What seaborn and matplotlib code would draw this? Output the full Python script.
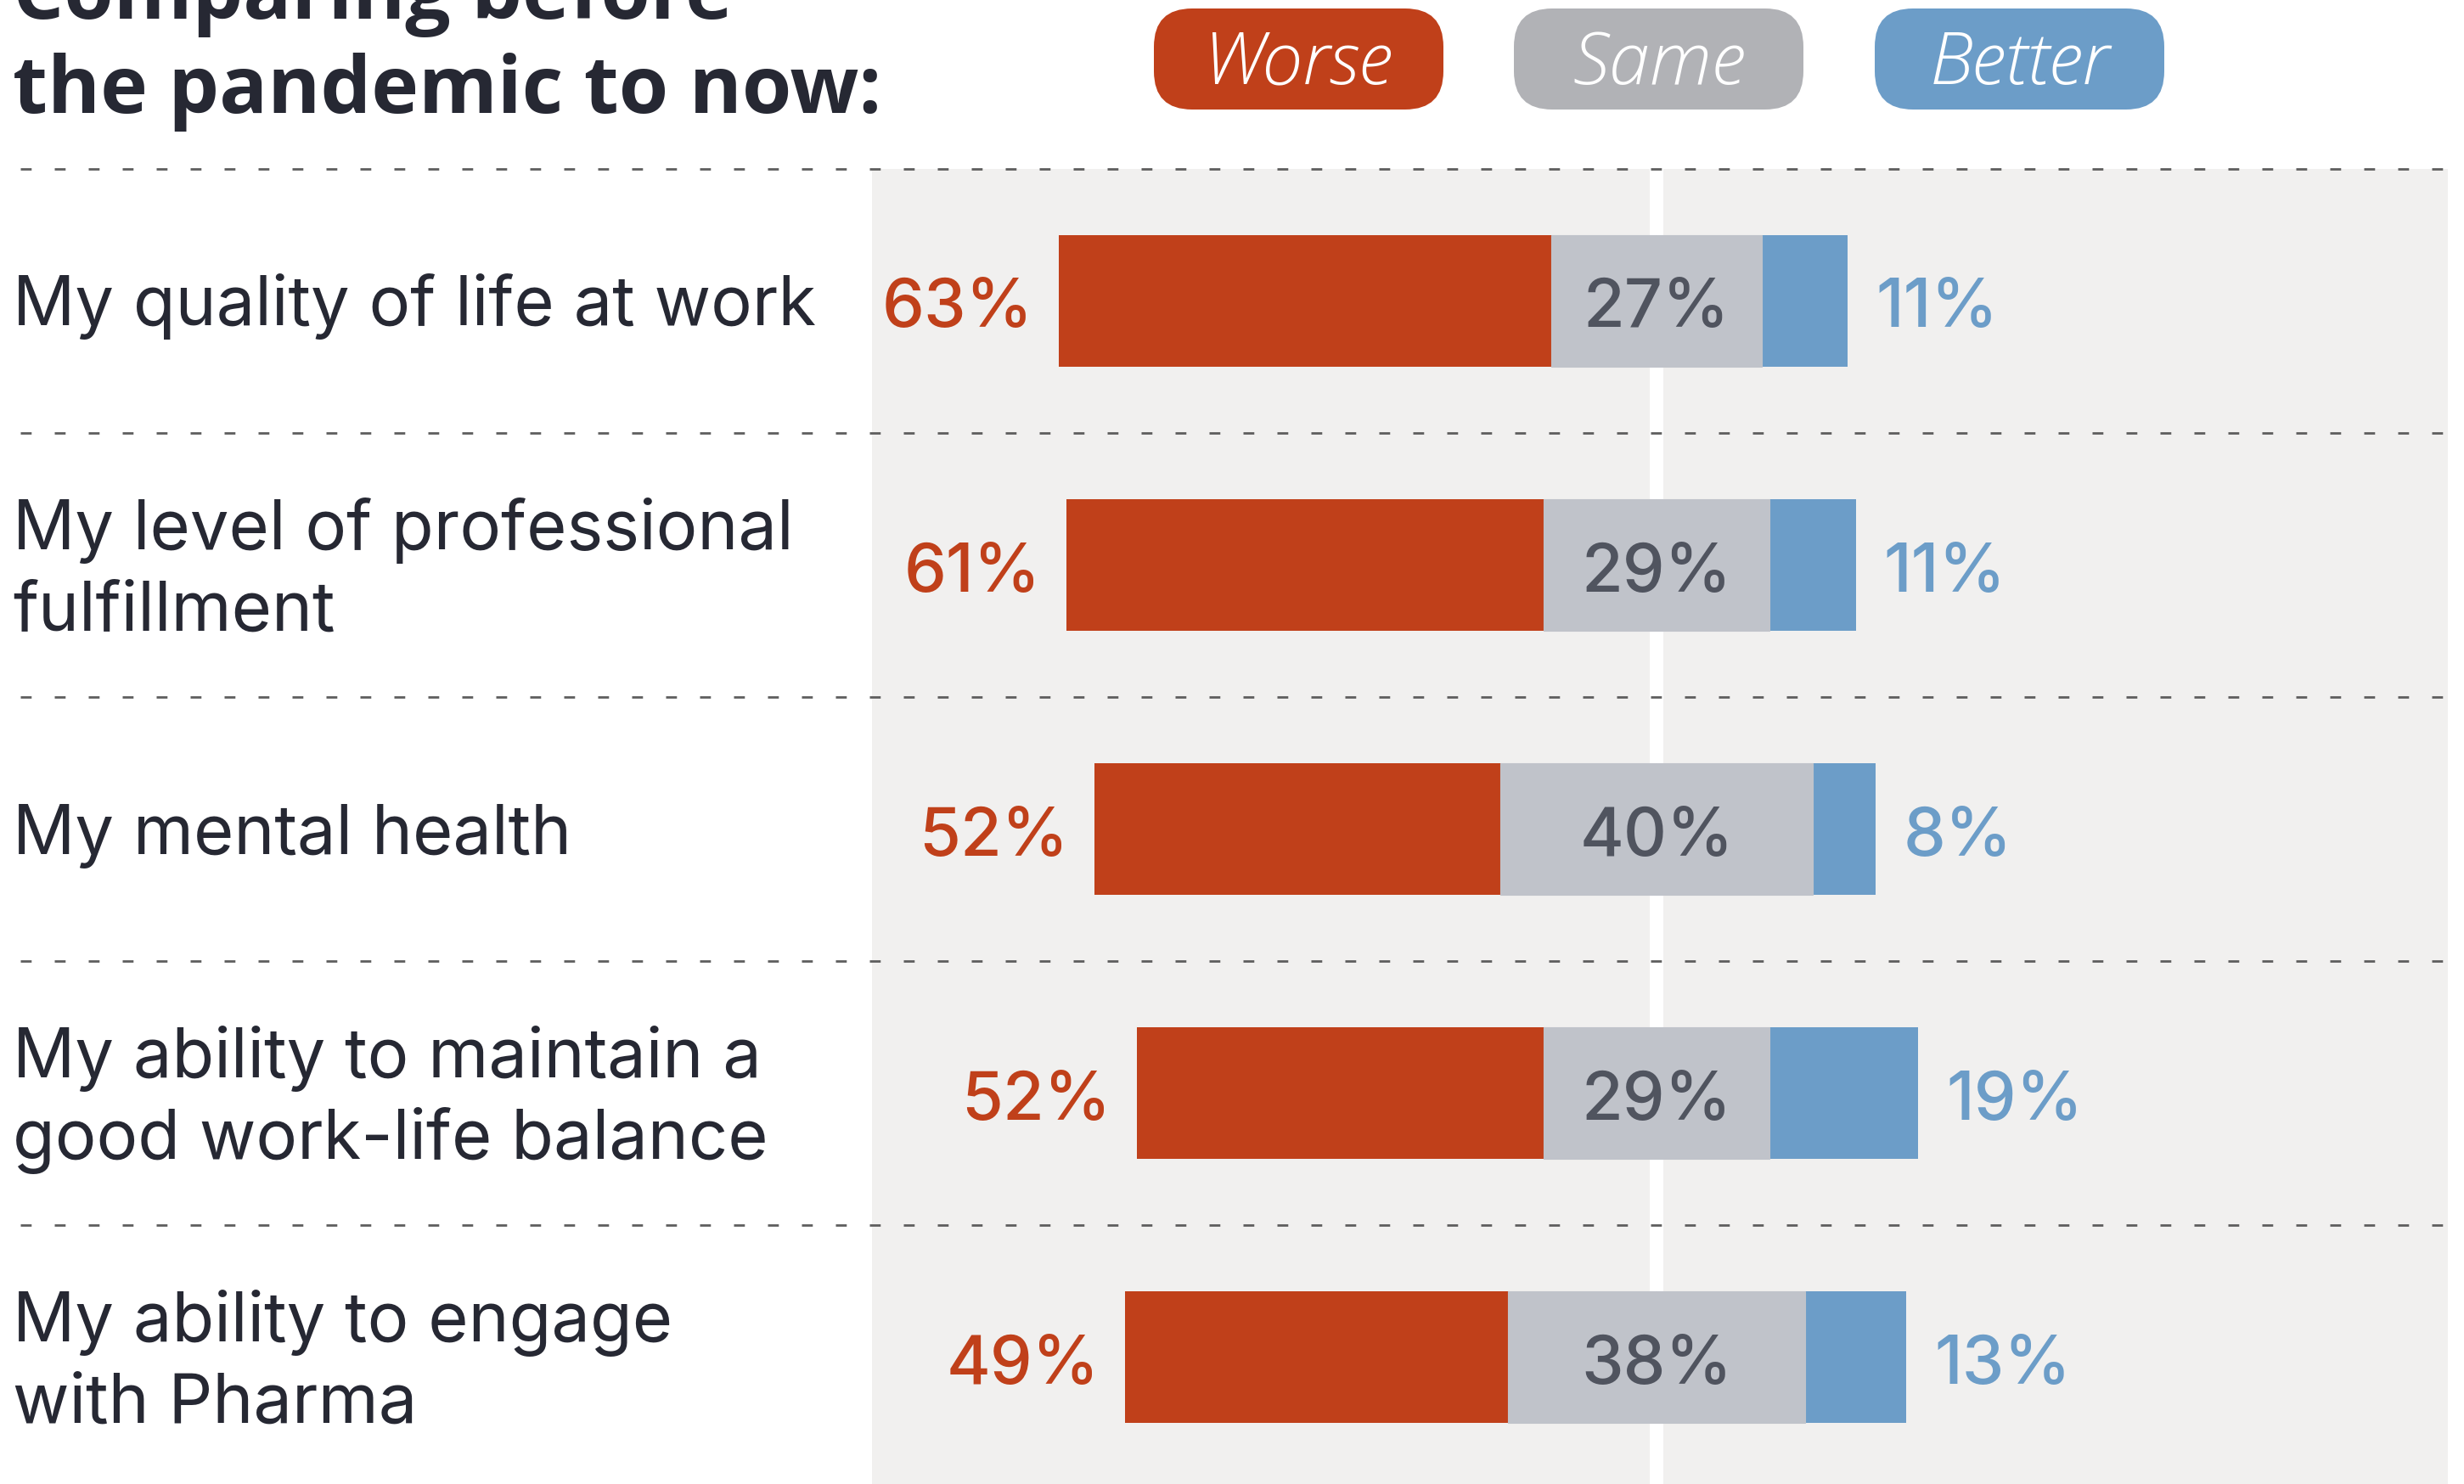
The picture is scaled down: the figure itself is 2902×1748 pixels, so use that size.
import numpy as np
import pandas as pd
import matplotlib
matplotlib.use("Agg")
import matplotlib.pyplot as plt
import matplotlib.transforms as mtransforms
from matplotlib.patches import FancyBboxPatch
import seaborn as sns

# ---------------- data ----------------
categories = [
    "My quality of life at work",
    "My level of professional\nfulfillment",
    "My mental health",
    "My ability to maintain a\ngood work-life balance",
    "My ability to engage\nwith Pharma",
]
worse = [63, 61, 52, 52, 49]
same = [27, 29, 40, 29, 38]
better = [11, 11, 8, 19, 13]
legend_labels = ["Worse", "Same", "Better"]
title_lines = ["Comparing before", "the pandemic to now:"]

# ---------------- style ----------------
W, H, DPI = 2902, 1748, 100
C_WORSE = "#C0401A"
C_SAME = "#C0C3CA"
C_SAME_PILL = "#B1B2B6"
C_BETTER = "#6C9DC8"
C_SAME_TXT = "#50545F"
C_TEXT = "#262833"
C_BG = "#F1F0EF"
C_DASH = "#5E5E5E"
FONT = ["Inter", "Open Sans", "DejaVu Sans"]

sns.set_theme(style="white")
plt.rcParams["font.family"] = FONT

fig = plt.figure(figsize=(W / DPI, H / DPI), dpi=DPI)
fig.patch.set_facecolor("white")

ax_left_px, ax_right_px, ax_top_px = 1027, 2883, 199
ax = fig.add_axes([ax_left_px / W, 0, (ax_right_px - ax_left_px) / W, (H - ax_top_px) / H])
ax.set_facecolor(C_BG)

df = pd.DataFrame({"cat": categories, "worse": worse, "same": same, "better": better})
df["same_half"] = df["same"] / 2
df["neg_same_half"] = -df["same_half"]
df["better_end"] = df["same_half"] + df["better"]
df["worse_end"] = -(df["same_half"] + df["worse"])

common = dict(y="cat", orient="h", width=0.5, saturation=1, errorbar=None, ax=ax, order=categories)
sns.barplot(data=df, x="better_end", color=C_BETTER, linewidth=0, **common)
sns.barplot(data=df, x="worse_end", color=C_WORSE, linewidth=0, **common)
sns.barplot(data=df, x="same_half", color=C_SAME, edgecolor=C_SAME, linewidth=0.8, **common)
sns.barplot(data=df, x="neg_same_half", color=C_SAME, edgecolor=C_SAME, linewidth=0.8, **common)

px_per_pct = 9.2
center_px = 1951
ax.set_xlim((ax_left_px - center_px) / px_per_pct, (ax_right_px - center_px) / px_per_pct)
n = len(categories)
row_px = 311.0
span = (H - ax_top_px) / row_px
ax.set_ylim(-0.5 + span, -0.5)
ax.axvline(0, color="white", lw=11.5, zorder=0.8)

for s in ax.spines.values():
    s.set_visible(False)
ax.set_xticks([])
ax.set_yticks([])
ax.set_xlabel("")
ax.set_ylabel("")

# dashed separators, spanning the figure width
blend = mtransforms.blended_transform_factory(fig.transFigure, ax.transData)
for k in range(n):
    ax.plot([24 / W, 2877 / W], [k - 0.5, k - 0.5], transform=blend, clip_on=False,
            color=C_DASH, lw=2, ls=(0, (4.6, 9.8)), zorder=3)

# value labels
pct_fs = 57
for i, r in df.iterrows():
    yb = i + 31 / row_px
    ax.text(r["worse_end"] - 3.3, yb, f"{r['worse']}%", ha="right", va="baseline",
            color=C_WORSE, fontsize=pct_fs, fontweight="medium", zorder=4)
    ax.text(0, yb, f"{r['same']}%", ha="center", va="baseline",
            color=C_SAME_TXT, fontsize=pct_fs, fontweight="medium", zorder=4)
    ax.text(r["better_end"] + 3.6, yb, f"{r['better']}%", ha="left", va="baseline",
            color=C_BETTER, fontsize=pct_fs, fontweight="medium", zorder=4)

# category labels
lab_fs = 58.5
line_px = 96
for i, lab in enumerate(categories):
    lines = lab.split("\n")
    m = len(lines)
    for k, ln in enumerate(lines):
        off = 29 - (m - 1) * line_px / 2 + k * line_px
        ax.text(15 / W, i + off / row_px, ln, transform=blend, ha="left", va="baseline",
                color=C_TEXT, fontsize=lab_fs, clip_on=False)

# overlay in pixel units for title and legend pills
ov = fig.add_axes([0, 0, 1, 1], zorder=5)
ov.set_xlim(0, W)
ov.set_ylim(H, 0)
ov.axis("off")
ov.patch.set_alpha(0)

title_font = ["Open Sans", "DejaVu Sans"]
ov.text(15, 22, title_lines[0], ha="left", va="baseline", fontsize=68,
        fontweight="bold", color=C_TEXT, family=title_font)
ov.text(15, 133, title_lines[1], ha="left", va="baseline", fontsize=68,
        fontweight="bold", color=C_TEXT, family=title_font)

pill_cols = [C_WORSE, C_SAME_PILL, C_BETTER]
pill_x = [1359, 1783, 2208]
pw, ph, py = 341, 119, 10
for lab, col, x0 in zip(legend_labels, pill_cols, pill_x):
    ov.add_patch(FancyBboxPatch((x0, py), pw, ph,
                                boxstyle="round,pad=0,rounding_size=45",
                                fc=col, ec="none", mutation_aspect=1))
    ov.text(x0 + pw / 2, py + ph / 2 + 29, lab, ha="center", va="baseline",
            color="white", fontsize=62, fontstyle="italic", fontweight="light",
            family=["Open Sans", "DejaVu Sans"])

fig.savefig("out.png", dpi=DPI, facecolor="white")
